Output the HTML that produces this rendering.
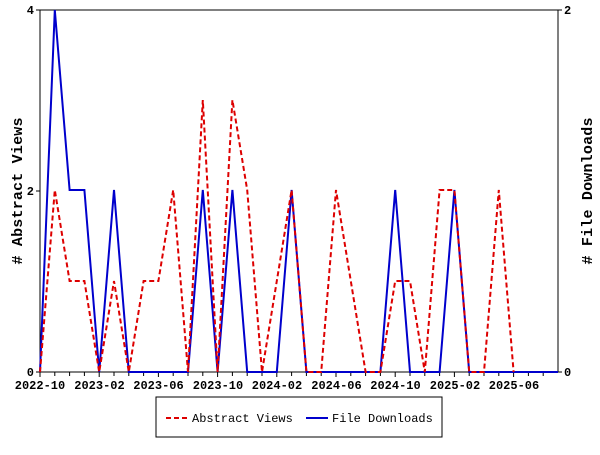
<!DOCTYPE html>
<html><head><style>body{margin:0;background:#fff;}</style></head><body>
<svg width="600" height="450" xmlns="http://www.w3.org/2000/svg" font-family="Liberation Mono, DejaVu Sans Mono, monospace">
<rect width="600" height="450" fill="#fff"/>
<rect x="40" y="10" width="518" height="362" fill="none" stroke="#000" stroke-width="1"/>
<g stroke="#000" stroke-width="1">
<line x1="36" y1="10" x2="40" y2="10"/><line x1="36" y1="191" x2="40" y2="191"/><line x1="36" y1="372" x2="40" y2="372"/>
<line x1="558" y1="10" x2="562" y2="10"/><line x1="558" y1="372" x2="562" y2="372"/>
<path d="M40 372v5M54.8 372v4M69.6 372v4M84.4 372v4M99.2 372v5M114 372v4M128.8 372v4M143.6 372v4M158.4 372v5M173.2 372v4M188 372v4M202.8 372v4M217.6 372v5M232.4 372v4M247.2 372v4M262 372v4M276.8 372v5M291.6 372v4M306.4 372v4M321.2 372v4M336 372v5M350.8 372v4M365.6 372v4M380.4 372v4M395.2 372v5M410 372v4M424.8 372v4M439.6 372v4M454.4 372v5M469.2 372v4M484 372v4M498.8 372v4M513.6 372v5M528.4 372v4M543.2 372v4"/>
</g>
<g font-size="12" font-weight="bold" fill="#000">
<text x="34" y="14" text-anchor="end">4</text><text x="34" y="195" text-anchor="end">2</text><text x="34" y="376" text-anchor="end">0</text>
<text x="564" y="14">2</text><text x="564" y="376">0</text>
<g text-anchor="middle">
<text x="40" y="389">2022-10</text><text x="99.5" y="389">2023-02</text><text x="158.5" y="389">2023-06</text><text x="218" y="389">2023-10</text><text x="277" y="389">2024-02</text><text x="336.5" y="389">2024-06</text><text x="395.5" y="389">2024-10</text><text x="455" y="389">2025-02</text><text x="514" y="389">2025-06</text>
</g>
<text transform="translate(22,191) rotate(-90)" text-anchor="middle" font-size="15" textLength="147">#  Abstract Views</text>
<text transform="translate(592,191) rotate(-90)" text-anchor="middle" font-size="15" textLength="147"># File Downloads</text>
</g>
<polyline fill="none" stroke="#0000cc" stroke-width="2" points="40,372 54.8,10 69.6,190 84.4,190 99.2,372 114,190 128.8,372 188,372 202.8,190 217.6,372 232.4,190 247.2,372 276.8,372 291.6,190 306.4,372 380.4,372 395.2,190 410,372 439.6,372 454.4,190 469.2,372 558,372"/>
<polyline fill="none" stroke="#dd0000" stroke-width="2" stroke-dasharray="5,3" points="40,372 54.8,190 69.6,281 84.4,281 99.2,372 114,281 128.8,372 143.6,281 158.4,281 173.2,190 188,372 202.8,100 217.6,372 232.4,100 247.2,190 262,372 276.8,281 291.6,190 306.4,372 321.2,372 336,190 350.8,281 365.6,372 380.4,372 395.2,281 410,281 424.8,372 439.6,190 454.4,190 469.2,372 484,372 498.8,190 513.6,372"/>
<rect x="156" y="397" width="286" height="40" fill="#fff" stroke="#000"/>
<line x1="166" y1="418" x2="188" y2="418" stroke="#dd0000" stroke-width="2" stroke-dasharray="5,3"/>
<text x="192" y="422" font-size="12">Abstract Views</text>
<line x1="306" y1="418" x2="328" y2="418" stroke="#0000cc" stroke-width="2"/>
<text x="332" y="422" font-size="12">File Downloads</text>
</svg>
</body></html>
